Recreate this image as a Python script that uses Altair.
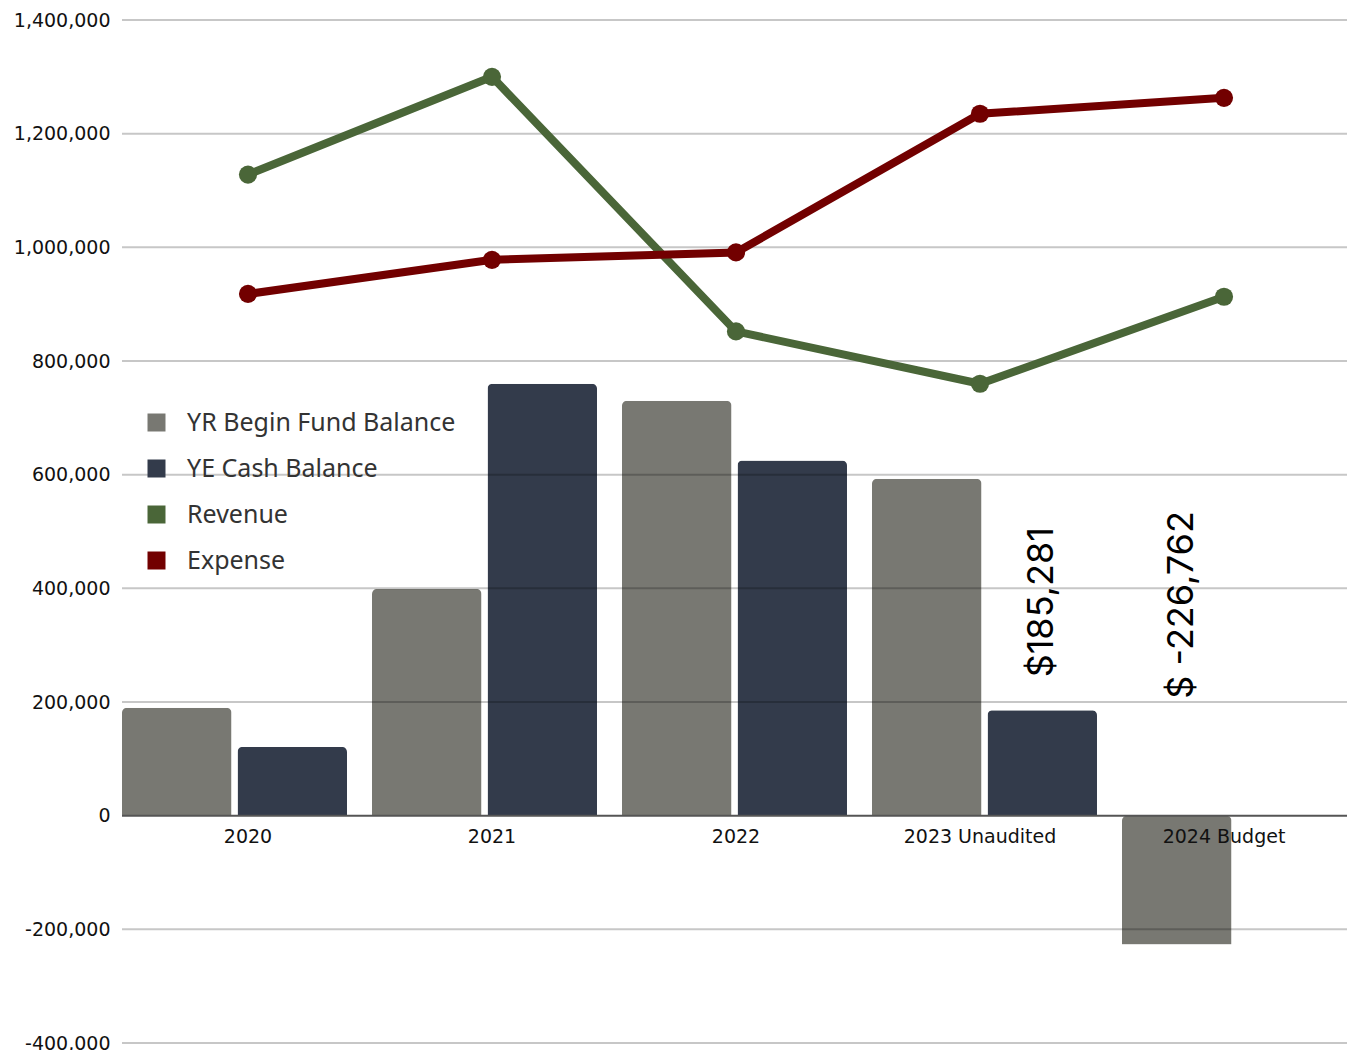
import altair as alt
import pandas as pd

# Fund summary by year
years = ["2020", "2021", "2022", "2023 Unaudited", "2024 Budget"]
begin_balance = [190000, 399000, 730000, 593000, -226762]
cash_balance = [121000, 760000, 625000, 185281, None]
revenue = [1128000, 1300000, 852000, 760000, 913000]
expense = [918000, 978000, 991000, 1235000, 1263000]

series_names = ["YR Begin Fund Balance", "YE Cash Balance", "Revenue", "Expense"]
series_colors = ["#787872", "#333b4b", "#4a6638", "#720000"]
tick_values = [-400000, -200000, 0, 200000, 400000, 600000, 800000, 1000000, 1200000, 1400000]
grid_values = [v for v in tick_values if v != 0]

AXIS_FONT = "DejaVu Sans"
LABEL_FONT = "Inter"
LEGEND_FONT = "Noto Sans"

bar_rows = []
for y, b, c in zip(years, begin_balance, cash_balance):
    bar_rows.append({"year": y, "series": series_names[0], "value": b})
    if c is not None:
        bar_rows.append({"year": y, "series": series_names[1], "value": c})
bars_df = pd.DataFrame(bar_rows)

line_rows = []
for y, r, e in zip(years, revenue, expense):
    line_rows.append({"year": y, "series": series_names[2], "value": r})
    line_rows.append({"year": y, "series": series_names[3], "value": e})
lines_df = pd.DataFrame(line_rows)

grid_df = pd.DataFrame({"v": grid_values})
years_df = pd.DataFrame({"year": years})

# Bars sit on a band scale; lines and category labels on a point scale
bar_x = alt.X("year:N", sort=years, axis=None,
              scale=alt.Scale(domain=years, paddingInner=0.1, paddingOuter=0))
point_x = alt.X("year:N", sort=years, axis=None,
                scale=alt.Scale(type="point", domain=years, range=[126, 1102], padding=0))
y_scale = alt.Scale(domain=[-400000, 1400000], nice=False, zero=False)
color_scale = alt.Scale(domain=series_names, range=series_colors)
offset_enc = alt.XOffset("series:N", sort=series_names[:2],
                         scale=alt.Scale(domain=series_names[:2], paddingInner=0.052, paddingOuter=0))

# One shared y-axis definition, used by every layer so the merged axis keeps it
y_axis = alt.Axis(
    values=tick_values,
    labelExpr="replace(format(datum.value, ','), '\u2212', '-')",
    grid=False, domain=False, ticks=False, labelPadding=12,
    labelFont=AXIS_FONT, labelFontSize=19, labelColor="#111111", title=None,
)

bars = alt.Chart(bars_df).mark_bar(cornerRadiusEnd=5).encode(
    x=bar_x,
    xOffset=offset_enc,
    y=alt.Y("value:Q", scale=y_scale, axis=y_axis),
    color=alt.Color(
        "series:N", scale=color_scale, sort=series_names,
        legend=alt.Legend(
            title=None, orient="none", legendX=22, legendY=390,
            symbolType="square", symbolSize=324, symbolStrokeWidth=0,
            symbolOpacity=1, labelFont=LEGEND_FONT, labelFontSize=25,
            labelColor="#333333", labelOffset=18, rowPadding=20,
            labelLimit=400, padding=0,
        ),
    ),
)

grid = alt.Chart(grid_df).mark_rule(color="black", opacity=0.22, strokeWidth=2).encode(
    y=alt.Y("v:Q", scale=y_scale, axis=y_axis)
)

zero_line = alt.Chart(pd.DataFrame({"v": [0]})).mark_rule(color="#555555", strokeWidth=2).encode(
    y=alt.Y("v:Q", scale=y_scale, axis=y_axis)
)

lines = alt.Chart(lines_df).mark_line(strokeWidth=8).encode(
    x=point_x,
    y=alt.Y("value:Q", scale=y_scale, axis=y_axis),
    color=alt.Color("series:N", scale=color_scale, sort=series_names),
)

points = alt.Chart(lines_df).mark_point(filled=True, size=330, opacity=1).encode(
    x=point_x,
    y=alt.Y("value:Q", scale=y_scale, axis=y_axis),
    color=alt.Color("series:N", scale=color_scale, sort=series_names),
)

x_labels = alt.Chart(years_df).mark_text(
    font=AXIS_FONT, fontSize=19, color="#111111", baseline="middle", dy=21
).encode(
    x=point_x,
    y=alt.YDatum(0, scale=y_scale, axis=y_axis),
    text="year:N",
)

# Rotated value callouts
cash_label_df = pd.DataFrame({
    "year": [years[3]], "series": [series_names[1]], "value": [cash_balance[3]],
    "text": ["$" + format(cash_balance[3], ",")],
})
budget_label_df = pd.DataFrame({
    "year": [years[4]], "series": [series_names[0]], "value": [begin_balance[4]],
    "text": ["$ " + format(begin_balance[4], ",")],
})

label_style = dict(font=LABEL_FONT, fontSize=36, color="#000000", angle=270,
                   align="left", baseline="middle")

cash_label = alt.Chart(cash_label_df).mark_text(dx=33, **label_style).encode(
    x=bar_x,
    xOffset=offset_enc,
    y=alt.Y("value:Q", scale=y_scale, axis=y_axis),
    text="text:N",
)

budget_label = alt.Chart(budget_label_df).mark_text(dx=117, dy=5, **label_style).encode(
    x=bar_x,
    xOffset=offset_enc,
    y=alt.YDatum(0, scale=y_scale, axis=y_axis),
    text="text:N",
)

chart = alt.layer(
    bars, grid, zero_line, lines, points, x_labels, cash_label, budget_label
).resolve_scale(x="independent").properties(
    width=1225, height=1023,
    padding={"left": 122, "top": 20, "right": 9, "bottom": 7},
    autosize=alt.AutoSizeParams(type="none"),
    background="white",
).configure_view(stroke=None)

chart.save("out.html", embed_options={"renderer": "svg", "actions": False})
